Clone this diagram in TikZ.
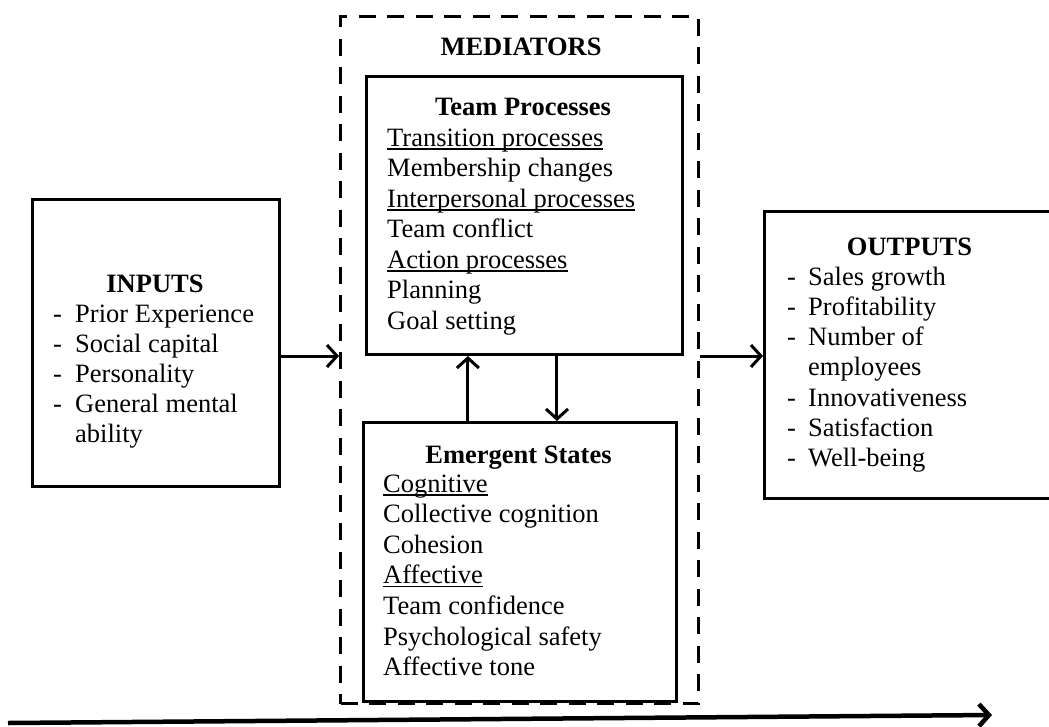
\documentclass[tikz,border=0pt]{standalone}
\usepackage{fontspec}
\setmainfont{Liberation Serif}
\usetikzlibrary{arrows.meta,calc}
% underline drawn just below the baseline
\newsavebox\ulbox
\newcommand\ulx[1]{\sbox\ulbox{#1}\rlap{\rule[-3.5pt]{\wd\ulbox}{1.8pt}}\usebox\ulbox}
\begin{document}
\begin{tikzpicture}[x=1pt,y=-1pt,
  font=\fontsize{26.5}{30}\selectfont,
  box/.style={draw,line width=3pt,inner sep=0pt,anchor=north west},
  medbox/.style={draw,line width=3pt,inner sep=0pt,anchor=north west,dash pattern=on 17pt off 11.5pt},
  txt/.style={anchor=base west,inner sep=0pt},
  head/.style={anchor=base,inner sep=0pt,font=\fontsize{26.5}{30}\selectfont\bfseries},
  conn/.style={line width=3pt,-{Straight Barb[length=10pt,width=22pt]}}]
\useasboundingbox (0,0) rectangle (1049,726);

% boxes
\node[box,minimum width=247pt,minimum height=287pt] (inp) at (31,198) {};
\node[medbox,minimum width=358pt,minimum height=687pt] (med) at (339,15) {};
\node[box,minimum width=316pt,minimum height=278pt] (tp) at (365,75) {};
\node[box,minimum width=313pt,minimum height=279pt] (es) at (362,421) {};
\node[box,minimum width=293pt,minimum height=287pt] (out) at (763,210) {};

% inputs
\node[head] (inh) at (155,292) {INPUTS};
\foreach \lbl [count=\i] in {Prior Experience,Social capital,Personality,General mental}{
  \node[txt] (ind\i) at (53,{292+30*\i}) {-};
  \node[txt] (ini\i) at (75,{292+30*\i}) {\lbl};
}
\node[txt] (ini5) at (75,442) {ability};

% mediators
\node[head] (medh) at (521,55) {MEDIATORS};

\node[head] (tph) at (523,115) {Team Processes};
\foreach \lbl [count=\i] in {{\ulx{Transition processes}},Membership changes,{\ulx{Interpersonal processes}},Team conflict,{\ulx{Action processes}},Planning,Goal setting}{
  \node[txt] (tpi\i) at (387,{146+30.5*(\i-1)}) {\lbl};
}

\node[head] (esh) at (518.5,463) {Emergent States};
\foreach \lbl [count=\i] in {{\ulx{Cognitive}},Collective cognition,Cohesion,{\ulx{Affective}},Team confidence,Psychological safety,Affective tone}{
  \node[txt] (esi\i) at (383,{492+30.6*(\i-1)}) {\lbl};
}

% outputs
\node[head] (outh) at (909.5,255) {OUTPUTS};
\foreach \lbl/\yy [count=\i] in {Sales growth/285,Profitability/315.3,Number of/345.6,Innovativeness/406.2,Satisfaction/436.5,Well-being/466.8}{
  \node[txt] (outd\i) at (787,\yy) {-};
  \node[txt] (outi\i) at (808,\yy) {\lbl};
}
\node[txt] (outi7) at (808,375.9) {employees};

% connectors, level with the bottom of the team-process box
\draw[conn] (inp.east |- tp.south) -- (med.west |- tp.south);
\draw[conn] (med.east |- tp.south) -- (out.west |- tp.south);
\coordinate (up) at ($(es.north west)!0.335!(es.north east)$);
\coordinate (dn) at ($(es.north west)!0.617!(es.north east)$);
\draw[conn] (up) -- (up |- tp.south);
\draw[conn] (dn |- tp.south) -- (dn);

% time line
\coordinate (t0) at (8,723);
\coordinate (t1) at (992,715);
\draw[line width=4.5pt,-{Straight Barb[length=10pt,width=22pt]}] (t0) -- (t1);
\end{tikzpicture}
\end{document}
